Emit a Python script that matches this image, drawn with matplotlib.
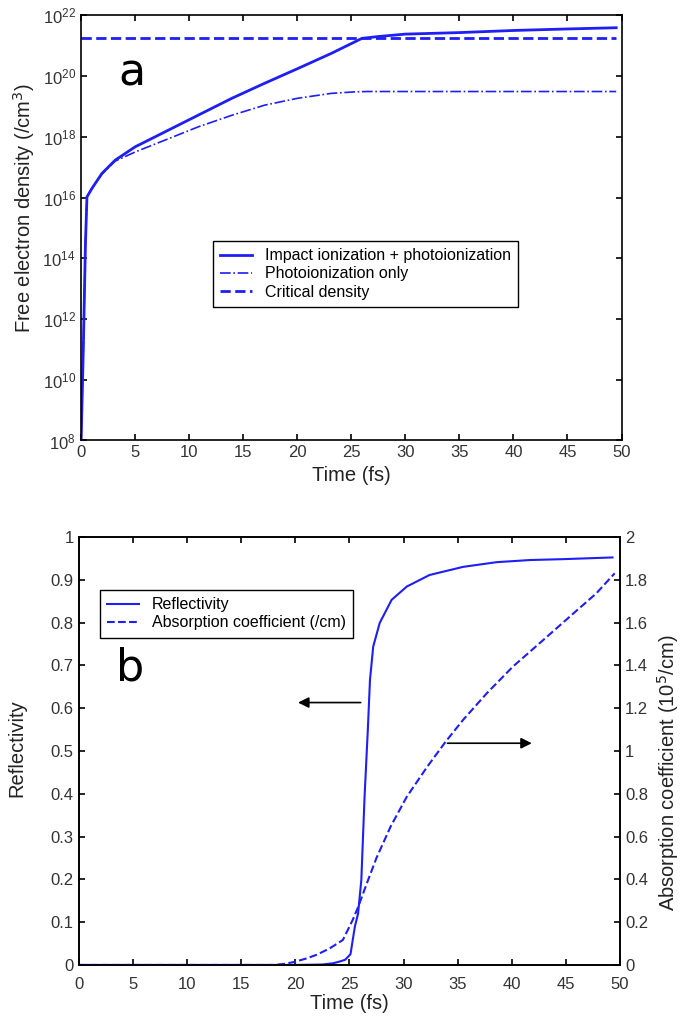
import matplotlib
matplotlib.use("Agg")
import matplotlib.pyplot as plt
import numpy as np
from matplotlib.ticker import FuncFormatter

plt.rcParams['font.family'] = ['Liberation Sans', 'DejaVu Sans']
plt.rcParams['axes.linewidth'] = 1.2

# panel a: free electron density (log10 of /cm^3) vs time (fs)
t_impact = [0.05, 0.25, 0.45, 0.59, 1.05, 1.97, 3.2, 5.05, 6.9, 8.74, 11.2, 14.0, 17.0, 20.1, 23.2, 26.0,
            27.5, 30, 35, 40, 45, 49.5]
log_impact = [8, 11, 14.5, 16.02, 16.3, 16.79, 17.23, 17.67, 18.0, 18.33, 18.77, 19.27, 19.76, 20.25, 20.75, 21.24,
              21.3, 21.38, 21.43, 21.5, 21.55, 21.59]
t_photo = [0.05, 0.25, 0.45, 0.59, 1.05, 1.97, 3.2, 5.05, 7.8, 10.9, 14.0, 17.0, 20.1, 23.2, 25.4, 26.5, 49.5]
log_photo = [8, 11, 14.5, 16.02, 16.3, 16.77, 17.2, 17.5, 17.89, 18.33, 18.71, 19.04, 19.27, 19.43, 19.48, 19.49, 19.49]
log_critical = 21.26

# panel b: reflectivity and absorption coefficient (1e5 /cm)
t_refl = [0, 20, 22.5, 23.5, 24.1, 24.6, 25.1, 25.5, 25.8, 26.1, 26.4, 26.7, 26.9, 27.2, 27.8, 28.9, 30.3, 32.4,
          35.5, 38.6, 41.7, 44.7, 49.3]
refl = [0, 0, 0.001, 0.004, 0.008, 0.012, 0.025, 0.089, 0.12, 0.198, 0.393, 0.549, 0.666, 0.744, 0.799, 0.853,
        0.884, 0.911, 0.93, 0.941, 0.946, 0.948, 0.952]
t_abs = [0, 18, 19, 20, 21, 22, 23.2, 24.4, 25.3, 25.8, 26.6, 27.5, 28.8, 30.3, 32.2, 33.9, 35.5, 37.7, 40.1,
         42.9, 45.7, 47.8, 49.5]
absorb = [0, 0, 0.005, 0.015, 0.03, 0.048, 0.078, 0.117, 0.21, 0.27, 0.38, 0.50, 0.646, 0.786, 0.927, 1.044, 1.145,
          1.27, 1.394, 1.518, 1.643, 1.736, 1.83]

blue = '#1e1ef5'
tick_col = '#333333'
label_col = '#222222'

fig = plt.figure(figsize=(6.87, 10.26), dpi=100)

# ---- panel a ----
ax1 = fig.add_axes([0.1173, 0.5707, 0.7875, 0.4144])
ax1.semilogy(t_impact, 10 ** np.array(log_impact), color=blue, lw=2.0, label='Impact ionization + photoionization')
ax1.semilogy(t_photo, 10 ** np.array(log_photo), color=blue, lw=1.2, ls='-.', label='Photoionization only')
ax1.semilogy([0, 49.5], [10 ** log_critical] * 2, color=blue, lw=2.0, ls='--', label='Critical density')
ax1.set_xlim(0, 50)
ax1.set_ylim(1e8, 1e22)
ax1.set_yticks([10.0 ** k for k in range(8, 23, 2)])
ax1.minorticks_off()
ax1.set_xticks(range(0, 51, 5))
ax1.tick_params(direction='in', top=True, right=True, labelsize=12, length=4, width=1.2, labelcolor=tick_col)
ax1.set_xlabel('Time (fs)', fontsize=14.5, color=label_col)
ax1.set_ylabel('Free electron density (/cm$^3$)', fontsize=14.5, color=label_col)
ax1.yaxis.set_label_coords(-0.081, 0.547)
ax1.legend(loc='upper left', bbox_to_anchor=(0.245, 0.469), fontsize=11.5, fancybox=False, edgecolor='black',
           framealpha=1, handlelength=2.0, borderpad=0.45, labelspacing=0.2, borderaxespad=0)
ax1.text(0.094, 0.864, 'a', transform=ax1.transAxes, fontsize=32, family='DejaVu Sans', ha='center', va='center')

# ---- panel b ----
ax2 = fig.add_axes([0.1146, 0.0595, 0.788, 0.4172])
ax3 = ax2.twinx()
l1, = ax2.plot(t_refl, refl, color=blue, lw=1.5, label='Reflectivity')
l2, = ax3.plot(t_abs, absorb, color=blue, lw=1.5, ls='--', label='Absorption coefficient (/cm)')
ax2.set_xlim(0, 50)
ax2.set_ylim(0, 1)
ax3.set_ylim(0, 2)
ax2.set_xticks(range(0, 51, 5))
ax2.set_yticks(np.arange(0, 1.01, 0.1))
ax3.set_yticks(np.arange(0, 2.01, 0.2))
fmt = FuncFormatter(lambda v, p: '%g' % round(v, 2))
ax2.yaxis.set_major_formatter(fmt)
ax3.yaxis.set_major_formatter(fmt)
ax2.tick_params(direction='in', top=True, labelsize=12, length=4, width=1.2, labelcolor=tick_col)
ax2.tick_params(axis='x', pad=9)
ax3.tick_params(direction='in', labelsize=12, length=4, width=1.2, labelcolor=tick_col)
ax2.set_xlabel('Time (fs)', fontsize=14.5, color=label_col, labelpad=1)
ax2.set_ylabel('Reflectivity', fontsize=14.5, color=label_col)
ax2.yaxis.set_label_coords(-0.096, 0.507)
ax3.set_ylabel('Absorption coefficient (10$^5$/cm)', fontsize=14.5, color=label_col)
ax3.yaxis.set_label_coords(1.065, 0.45)
ax2.legend([l1, l2], [l1.get_label(), l2.get_label()], loc='upper left', bbox_to_anchor=(0.039, 0.876),
           fontsize=11.5, fancybox=False, edgecolor='black', framealpha=1, handlelength=2.0, borderpad=0.45,
           labelspacing=0.2, borderaxespad=0)
ax2.annotate('', xy=(20.0, 0.613), xytext=(26.3, 0.613),
             arrowprops=dict(arrowstyle='-|>', color='black', lw=1.2, mutation_scale=16))
ax2.annotate('', xy=(42.1, 0.518), xytext=(33.8, 0.518),
             arrowprops=dict(arrowstyle='-|>', color='black', lw=1.2, mutation_scale=16))
ax2.text(0.095, 0.694, 'b', transform=ax2.transAxes, fontsize=32, family='DejaVu Sans', ha='center', va='center')

fig.savefig('out.png', dpi=100)
